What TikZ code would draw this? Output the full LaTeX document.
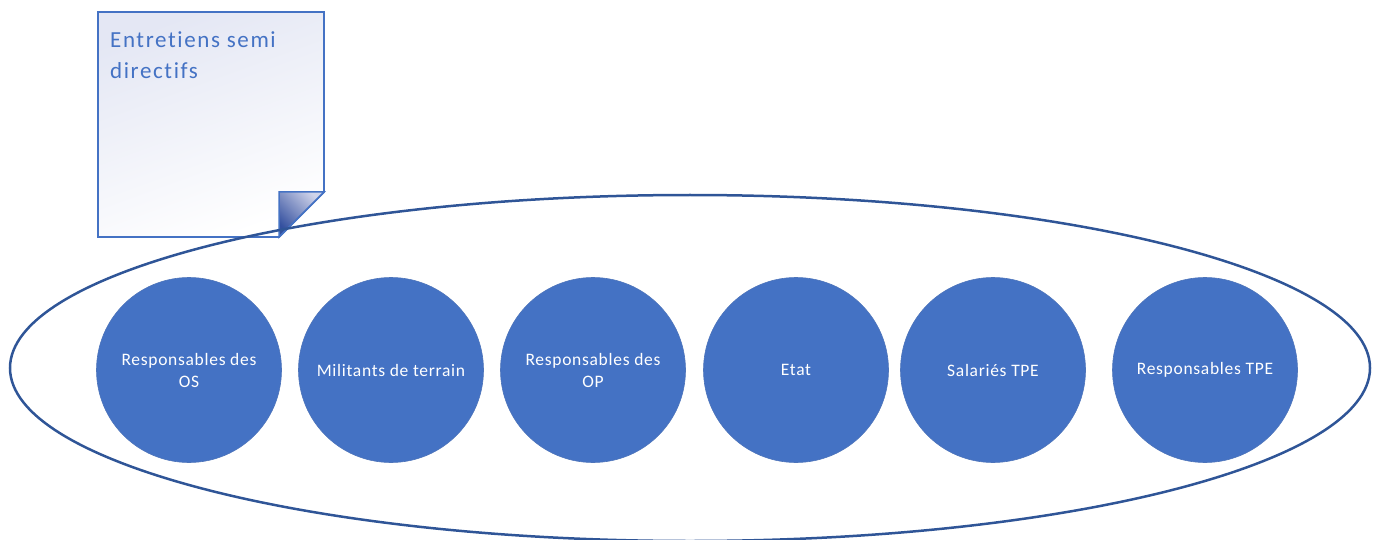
\documentclass[tikz,border=0pt]{standalone}
\usepackage{fontspec}
\setmainfont[Ligatures=NoCommon]{Carlito}
\usetikzlibrary{shapes.geometric}
\definecolor{accent}{HTML}{4472C4}
\definecolor{darkline}{HTML}{2F5597}
\definecolor{lav}{HTML}{E4E7F4}
\definecolor{foldlight}{HTML}{D0D4EA}
\definecolor{folddark}{HTML}{34509F}
\begin{document}
\begin{tikzpicture}[x=1pt,y=-1pt,
  person/.style={circle, fill=accent, draw=accent!85!gray, line width=0.6pt,
    minimum size=185pt, inner sep=0pt, text=white, align=center,
    font=\fontsize{17.5}{22}\selectfont\addfontfeature{LetterSpace=4}},
  notebox/.style={draw=accent, line width=1.8pt, shading=axis,
    top color=lav, bottom color=white, shading angle=20},
  foldbox/.style={draw=accent, line width=1.5pt, shading=axis,
    top color=foldlight, bottom color=folddark, shading angle=-45},
  notetext/.style={anchor=north west, inner sep=0pt, align=left, text=accent,
    font=\fontsize{23}{31}\selectfont\addfontfeature{LetterSpace=7}},
  group/.style={ellipse, draw=darkline, line width=2.5pt, inner sep=0pt,
    minimum width=1360pt, minimum height=346pt}]
\useasboundingbox (0,0) rectangle (1381,540);
\clip (0,0) rectangle (1381,540);
% note
\path[notebox] (98,12) -- (324,12) -- (324,192) -- (279,237) -- (98,237) -- cycle;
\path[foldbox] (279,192) -- (324,192) -- (279,237) -- cycle;
\node[notetext] (title) at (110,31) {Entretiens semi\\directifs};
% ellipse
\node[group] (grp) at (690,368) {};
% circles
\node[person] (os) at (189,370) {Responsables des\\OS};
\node[person] (mil) at (391,370) {Militants de terrain};
\node[person] (op) at (593,370) {Responsables des\\OP};
\node[person] (etat) at (796,370) {Etat};
\node[person] (sal) at (993,370) {Salariés TPE};
\node[person] (resp) at (1205,370) {Responsables TPE};
\end{tikzpicture}
\end{document}
